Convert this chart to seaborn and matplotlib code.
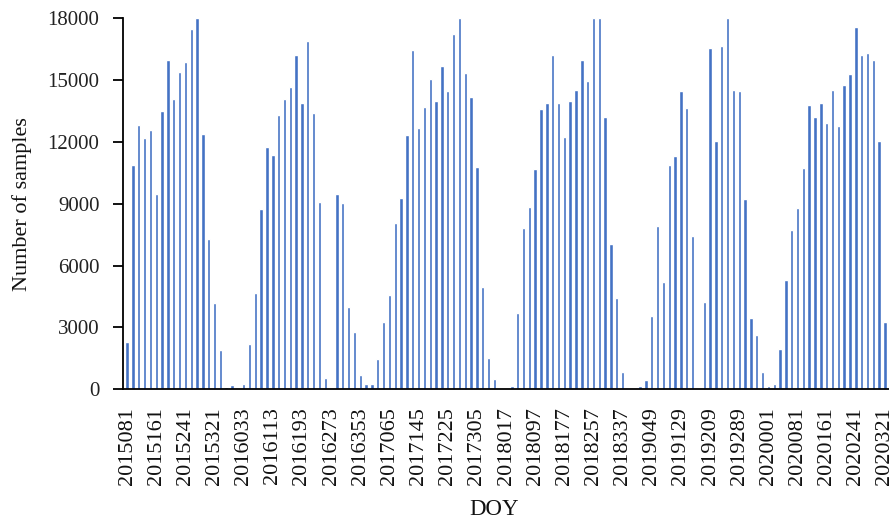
import numpy as np
import pandas as pd
import seaborn as sns
import matplotlib.pyplot as plt

# number of samples per 16-day composite
samples_2015 = [2300, 10900, 12800, 12200, 12600, 9500, 13500, 16000, 14100,
                15400, 15900, 17500, 18000, 12400, 7300, 4200, 1900, 130]
samples_2016 = [190, 0, 260, 2200, 4650, 8750, 11750, 11350, 13300, 14100,
                14650, 16200, 13900, 16900, 13400, 9100, 570, 0, 9500, 9050,
                4000, 2770, 700]
samples_2017 = [260, 260, 1460, 3250, 4560, 8050, 9300, 12360, 16460, 12660,
                13710, 15040, 13970, 15700, 14470, 17220, 18000, 15330, 14170,
                10800, 4950, 1500, 520]
samples_2018 = [80, 0, 150, 3690, 7810, 8860, 10670, 13600, 13910, 16200,
                13910, 12230, 13970, 14540, 15960, 14980, 18000, 18000, 13230,
                7050, 4450, 820, 0]
samples_2019 = [0, 150, 450, 3570, 7920, 5190, 10870, 11300, 14470, 13670,
                7420, 0, 4250, 16580, 12030, 16640, 18000, 14520, 14460, 9240,
                3440, 2640, 820]
samples_2020 = [150, 260, 1940, 5300, 7750, 8800, 10720, 13780, 13230, 13910,
                12910, 14520, 12790, 14780, 15280, 17600, 16200, 16330, 15960,
                12030, 3250]

years = [2015, 2016, 2017, 2018, 2019, 2020]
first_doy = [81, 1, 1, 1, 1, 1]
series = [samples_2015, samples_2016, samples_2017, samples_2018,
          samples_2019, samples_2020]

doy_labels = []
counts = []
for yr, d0, vals in zip(years, first_doy, series):
    for k, v in enumerate(vals):
        doy_labels.append(f"{yr}{d0 + 16 * k:03d}")
        counts.append(v)

df = pd.DataFrame({"doy": doy_labels, "count": counts})

sns.set_style("white")
plt.rcParams["font.family"] = ["Liberation Serif", "DejaVu Serif"]

fig = plt.figure(figsize=(8.89, 5.23), dpi=100)
ax = fig.add_axes([0.1384, 0.2556, 0.8616, 0.7094])

sns.barplot(data=df, x="doy", y="count", color="#4472C4", saturation=1,
            width=0.58, ax=ax)

ax.set_xlim(-0.69, len(df) - 0.31)
ax.set_ylim(0, 18000)
ax.set_yticks(np.arange(0, 18001, 3000))

pos = np.arange(0, len(df), 5)
ax.set_xticks(pos)
ax.set_xticklabels([doy_labels[i] for i in pos], rotation=90, fontsize=16)
ax.tick_params(axis="x", length=0, pad=13, colors="#111111")
ax.tick_params(axis="y", direction="out", length=7, width=1.3, pad=10,
               labelsize=15, colors="black", left=True)
for lab in ax.get_yticklabels():
    lab.set_color("#222222")

for side in ["top", "right"]:
    ax.spines[side].set_visible(False)
for side in ["left", "bottom"]:
    ax.spines[side].set_color("black")
    ax.spines[side].set_linewidth(1.3)

ax.set_xlabel("DOY", fontsize=16.5, color="#111111")
ax.set_ylabel("Number of samples", fontsize=16, color="#111111")
ax.xaxis.set_label_coords(0.484, -0.325)
ax.xaxis.label.set_verticalalignment("center")
ax.yaxis.set_label_coords(-0.132, 0.5)
ax.yaxis.label.set_verticalalignment("center")

fig.savefig("out.png", dpi=100)
